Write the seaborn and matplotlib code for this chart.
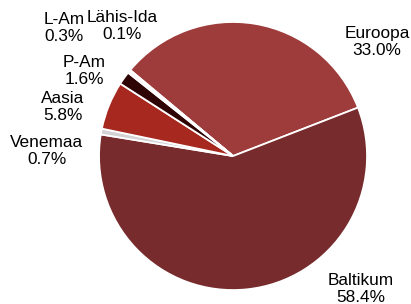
import matplotlib
matplotlib.use("Agg")
import matplotlib.pyplot as plt
import seaborn as sns

sns.set_theme(style="white")
plt.rcParams['font.family'] = ['Liberation Sans', 'DejaVu Sans']

categories = ["Euroopa", "Baltikum", "Venemaa", "Aasia", "P-Am", "L-Am", "Lähis-Ida"]
values = [33.0, 58.4, 0.7, 5.8, 1.6, 0.3, 0.1]
colors = ["#9e3b3b", "#772b2c", "#d3d3d3", "#a6281f", "#2e0404", "#f4e4e4", "#c0504d"]
label_pos = [(1.075, 0.851), (0.950, -0.993), (-1.392, 0.037), (-1.269, 0.366),
             (-1.112, 0.634), (-1.261, 0.955), (-0.828, 0.970)]

fig = plt.figure(figsize=(4.11, 3.04), dpi=100)
ax = fig.add_axes([0, 0, 1, 1])
wedges, _ = ax.pie(values, colors=colors, startangle=140.1, counterclock=False,
                   radius=1.0, wedgeprops=dict(edgecolor="white", linewidth=1.3))
for name, v, (x, y) in zip(categories, values, label_pos):
    ax.text(x, y, f"{name}\n{v:.1f}%", ha="center", va="center", fontsize=12.4,
            color="#000000", linespacing=1.12, multialignment="center")
ax.set_xlim(-1.739, 1.328)
ax.set_ylim(-1.104, 1.164)
ax.set_aspect("auto")
ax.axis("off")
fig.savefig("out.png", dpi=100)
